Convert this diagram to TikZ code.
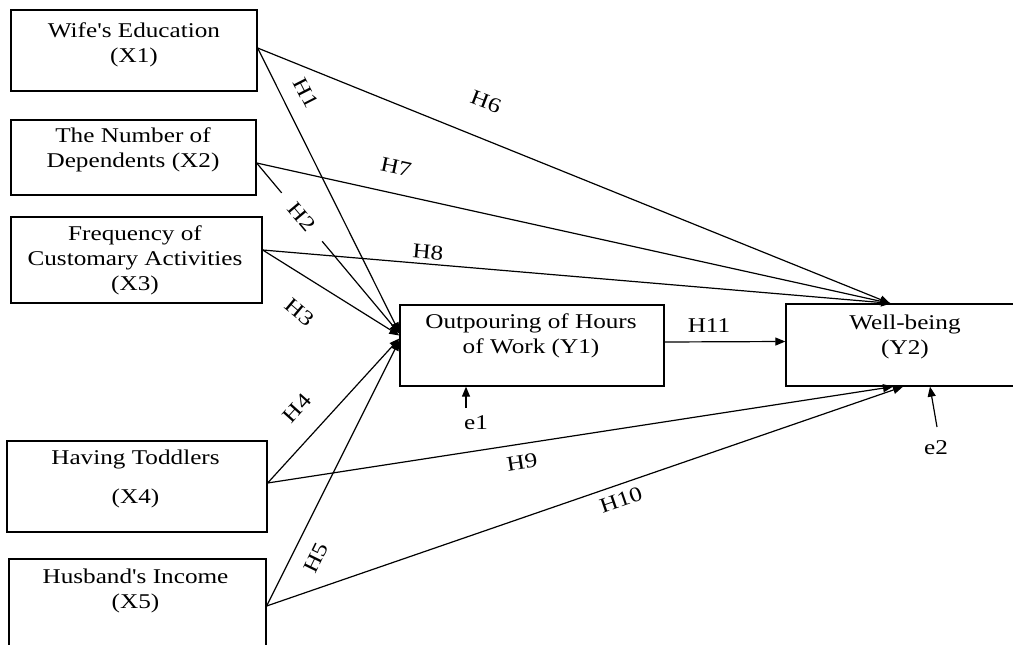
\documentclass[tikz,border=0pt]{standalone}
\usepackage{fontspec}
\setmainfont{Liberation Serif}[FakeStretch=1.2]
\newfontfamily\plainserif{Liberation Serif}[FakeStretch=1.2,Ligatures=ResetAll]
\newcommand{\sq}{{\plainserif\char39}}
\usetikzlibrary{arrows.meta}
\begin{document}
\begin{tikzpicture}[x=1pt,y=-1pt,
  box/.style={draw, line width=1.3pt, inner sep=0pt},
  txt/.style={align=center, font=\fontsize{21}{25}\selectfont, inner sep=0pt},
  lbl/.style={font=\fontsize{21}{25}\selectfont, inner sep=1pt},
  conn/.style={line width=1.2pt, -{Triangle[length=10pt,width=8pt]}},
]
\useasboundingbox (0,0) rectangle (1013,645);
\clip (0,0) rectangle (1013,645);
% boxes
\node[box, minimum width=246pt, minimum height=81pt] (x1) at (134,50.5) {};
\node[box, minimum width=245pt, minimum height=75pt] (x2) at (133.5,157.5) {};
\node[box, minimum width=251pt, minimum height=86pt] (x3) at (136.5,260) {};
\node[box, minimum width=260pt, minimum height=91pt] (x4) at (137,486.5) {};
\node[box, minimum width=257pt, minimum height=121pt] (x5) at (137.5,619.5) {};
\node[box, minimum width=264pt, minimum height=81pt] (y1) at (532,345.5) {};
\node[box, minimum width=234pt, minimum height=82pt] (y2) at (903,345) {};
% box texts
\node[txt] (x1t) at (134,44.5) {Wife\sq s Education\\(X1)};
\node[txt] (x2t) at (133,149.5) {The Number of\\Dependents (X2)};
\node[txt] (x3t) at (135,260.5) {Frequency of\\Customary Activities\\(X3)};
\node[txt] (x4t) at (135.5,478.5) {Having Toddlers\\[14pt](X4)};
\node[txt] (x5t) at (135.5,590.5) {Husband\sq s Income\\(X5)};
\node[txt] (y1t) at (531,335.5) {Outpouring of Hours\\of Work (Y1)};
\node[txt] (y2t) at (905,336.5) {Well-being\\(Y2)};
% error terms
\coordinate (e1s) at (466,408);
\coordinate (e2s) at (937,427);
% connectors to Y1
\draw[conn] ([yshift=2.5pt]x1.east) -- ([yshift=13pt]y1.west);
\draw[conn] ([yshift=-5.5pt]x2.east) -- ([yshift=12pt]y1.west);
\draw[conn] ([yshift=10pt]x3.east) -- ([yshift=10pt]y1.west);
\draw[conn] ([yshift=3.5pt]x4.east) -- ([yshift=7pt]y1.west);
\draw[conn] ([yshift=13.5pt]x5.east) -- ([yshift=5pt]y1.west);
% connectors to Y2
\draw[conn] ([yshift=2.5pt]x1.east) -- ([xshift=-13pt]y2.north);
\draw[conn] ([yshift=-5.5pt]x2.east) -- ([xshift=-13pt]y2.north);
\draw[conn] ([yshift=10pt]x3.east) -- ([xshift=-12pt]y2.north);
\draw[conn] ([yshift=3.5pt]x4.east) -- ([xshift=-10pt]y2.south);
\draw[conn] ([yshift=13.5pt]x5.east) -- ([xshift=0pt]y2.south);
\draw[conn] ([yshift=3.5pt]y1.east) -- ([yshift=3.5pt]y2.west);
\draw[conn] (e1s) -- ([xshift=-66pt]y1.south);
\draw[conn] (e2s) -- ([xshift=27pt]y2.south);
% labels
\node[lbl, rotate=-63] (h1) at (306,93) {H1};
\node[lbl, rotate=-50, fill=white, inner xsep=16pt, inner ysep=2pt] (h2) at (302,217) {H2};
\node[lbl, rotate=-40] (h3) at (300,312) {H3};
\node[lbl, rotate=48] (h4) at (297,408) {H4};
\node[lbl, rotate=64] (h5) at (316,558) {H5};
\node[lbl, rotate=-21] (h6) at (486,102) {H6};
\node[lbl, rotate=-12] (h7) at (396,167) {H7};
\node[lbl, rotate=-5] (h8) at (428,252) {H8};
\node[lbl, rotate=9] (h9) at (522,462) {H9};
\node[lbl, rotate=19] (h10) at (621,500) {H10};
\node[lbl] (h11) at (709,326) {H11};
\node[lbl] (e1) at (476,423) {e1};
\node[lbl] (e2) at (936,448) {e2};
\end{tikzpicture}
\end{document}
